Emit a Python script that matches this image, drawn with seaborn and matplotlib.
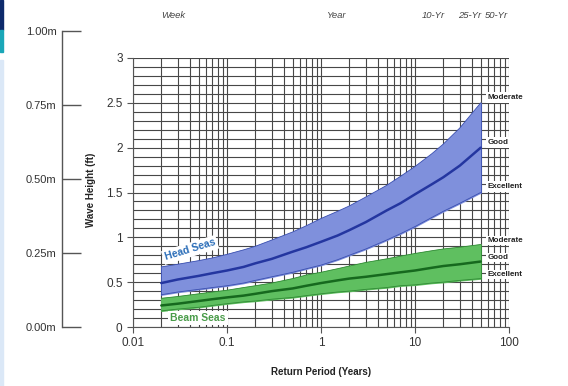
import numpy as np
import pandas as pd
import matplotlib
matplotlib.use("Agg")
import matplotlib.pyplot as plt
import seaborn as sns

sns.set_style("white")
plt.rcParams['font.family'] = ['Liberation Sans', 'DejaVu Sans']

# ---- data (wave height in ft vs return period in years) ----
periods = [0.02, 0.03, 0.05, 0.07, 0.1, 0.15, 0.2, 0.3, 0.5, 0.7, 1,
           1.5, 2, 3, 5, 7, 10, 15, 20, 30, 50]
head_moderate = [0.67, 0.70, 0.74, 0.77, 0.81, 0.86, 0.90, 0.97, 1.06, 1.13, 1.21,
                 1.29, 1.35, 1.45, 1.58, 1.68, 1.79, 1.93, 2.04, 2.22, 2.50]
head_good = [0.49, 0.53, 0.57, 0.60, 0.63, 0.67, 0.71, 0.76, 0.84, 0.89, 0.95,
             1.02, 1.08, 1.17, 1.30, 1.38, 1.48, 1.59, 1.67, 1.80, 2.00]
head_excellent = [0.36, 0.39, 0.42, 0.44, 0.46, 0.49, 0.52, 0.56, 0.61, 0.65, 0.69,
                  0.75, 0.80, 0.87, 0.97, 1.04, 1.12, 1.22, 1.29, 1.38, 1.50]
beam_moderate = [0.32, 0.34, 0.37, 0.39, 0.41, 0.44, 0.46, 0.49, 0.54, 0.58, 0.61,
                 0.65, 0.68, 0.72, 0.76, 0.79, 0.82, 0.85, 0.87, 0.89, 0.92]
beam_good = [0.24, 0.26, 0.29, 0.31, 0.33, 0.35, 0.37, 0.40, 0.43, 0.46, 0.49,
             0.52, 0.54, 0.56, 0.59, 0.61, 0.63, 0.66, 0.68, 0.70, 0.73]
beam_excellent = [0.18, 0.20, 0.22, 0.24, 0.26, 0.28, 0.29, 0.31, 0.33, 0.35, 0.37,
                  0.39, 0.40, 0.42, 0.44, 0.46, 0.47, 0.49, 0.50, 0.52, 0.54]

band_labels = ["Moderate", "Good", "Excellent"]
top_labels = ["Week", "Year", "10-Yr", "25-Yr", "50-Yr"]
top_label_x = [0.027, 1.45, 15.5, 38, 73]
y_ticks = [0, 0.5, 1, 1.5, 2, 2.5, 3]
y_tick_labels = ["0", "0.5", "1", "1.5", "2", "2.5", "3"]
x_ticks = [0.01, 0.1, 1, 10, 100]
x_tick_labels = ["0.01", "0.1", "1", "10", "100"]
m_ticks = [0, 0.25, 0.5, 0.75, 1.0]
m_tick_labels = ["0.00m", "0.25m", "0.50m", "0.75m", "1.00m"]

df = pd.DataFrame({
    "period": periods * 2,
    "height": head_good + beam_good,
    "sea": ["Head Seas"] * len(periods) + ["Beam Seas"] * len(periods),
})

W, H = 568, 386
fig = plt.figure(figsize=(W / 100, H / 100), dpi=100)

# left edge screenshot stripes
fig.patches.append(plt.Rectangle((0, 1 - 30 / H), 3 / W, 30 / H, transform=fig.transFigure,
                                 color="#0d2a6b", zorder=0))
fig.patches.append(plt.Rectangle((0, 1 - 52 / H), 3 / W, 22 / H, transform=fig.transFigure,
                                 color="#1aa7b8", zorder=0))
fig.patches.append(plt.Rectangle((0, 0), 3 / W, 1 - 60 / H, transform=fig.transFigure,
                                 color="#dbe8f7", zorder=0))

ax = fig.add_axes([133 / W, 59 / H, 376 / W, 269 / H])
ax.set_xscale("log")
ax.set_xlim(0.01, 100)
ax.set_ylim(0, 3)

# grid
grid_color = "#474747"
ax.set_xticks(x_ticks)
ax.set_xticklabels(x_tick_labels)
ax.set_yticks(y_ticks)
ax.set_yticklabels(y_tick_labels)
ax.set_yticks(np.round(np.arange(0, 3.01, 0.1), 2), minor=True)
ax.xaxis.set_minor_locator(matplotlib.ticker.LogLocator(base=10, subs=np.arange(2, 10)))
ax.grid(True, which="both", axis="both", color=grid_color, lw=0.8, zorder=0)
ax.tick_params(axis="x", which="minor", length=0, labelbottom=False)
ax.tick_params(axis="y", which="minor", length=0)
ax.tick_params(axis="both", which="major", labelsize=8.5, labelcolor="#333333",
               color="#555555", length=4, width=0.8, left=True, bottom=True)
for s in ["top", "right"]:
    ax.spines[s].set_visible(False)
for s in ["left", "bottom"]:
    ax.spines[s].set_color("#555555")
    ax.spines[s].set_linewidth(0.8)

# bands
head_fill, head_edge, head_line = "#7f90dc", "#3a4fb0", "#2436a0"
beam_fill, beam_edge, beam_line = "#5fbf60", "#2f8a34", "#16691e"
ax.fill_between(periods, head_excellent, head_moderate, color=head_fill, alpha=1, zorder=2)
ax.plot(periods, head_moderate, color=head_edge, lw=0.6, zorder=3)
ax.plot(periods, head_excellent, color=head_edge, lw=0.6, zorder=3)
ax.plot([periods[0], periods[0]], [head_excellent[0], head_moderate[0]], color=head_edge, lw=0.6, zorder=3)
ax.plot([periods[-1], periods[-1]], [head_excellent[-1], head_moderate[-1]], color=head_edge, lw=0.6, zorder=3)
ax.fill_between(periods, beam_excellent, beam_moderate, color=beam_fill, alpha=1, zorder=2)
ax.plot(periods, beam_moderate, color=beam_edge, lw=0.6, zorder=3)
ax.plot(periods, beam_excellent, color=beam_edge, lw=0.6, zorder=3)
ax.plot([periods[-1], periods[-1]], [beam_excellent[-1], beam_moderate[-1]], color=beam_edge, lw=0.6, zorder=3)

sns.lineplot(data=df, x="period", y="height", hue="sea",
             palette={"Head Seas": head_line, "Beam Seas": beam_line},
             lw=1.8, ax=ax, legend=False, zorder=4)
ax.set_ylabel("")

# end labels
for lab, v in zip(band_labels, [head_moderate[-1], head_good[-1], head_excellent[-1]]):
    ax.annotate(lab, (periods[-1], v), xytext=(5, 4), textcoords="offset points",
                fontsize=5.8, fontweight="bold", color="#222222", va="center", ha="left",
                bbox=dict(boxstyle="square,pad=0.25", fc="white", ec="none"), zorder=6,
                annotation_clip=False)
for lab, v in zip(band_labels, [beam_moderate[-1], beam_good[-1], beam_excellent[-1]]):
    ax.annotate(lab, (periods[-1], v), xytext=(5, 3), textcoords="offset points",
                fontsize=5.8, fontweight="bold", color="#222222", va="center", ha="left",
                bbox=dict(boxstyle="square,pad=0.15", fc="white", ec="none"), zorder=6,
                annotation_clip=False)

ax.text(0.0405, 0.86, "Head Seas", rotation=17, fontsize=7.5, fontweight="bold",
        color="#2a6db8", ha="center", va="center", zorder=6,
        bbox=dict(boxstyle="square,pad=0.2", fc="white", ec="none"))
ax.text(0.049, 0.10, "Beam Seas", fontsize=7.5, fontweight="bold",
        color="#4a9c4a", ha="center", va="center", zorder=6,
        bbox=dict(boxstyle="square,pad=0.2", fc="white", ec="none"))

# top labels
for lab, xv in zip(top_labels, top_label_x):
    ax.text(xv, 1 - 15 / H, lab, transform=matplotlib.transforms.blended_transform_factory(
        ax.transData, fig.transFigure), fontsize=6.8, style="italic", color="#444444",
        ha="center", va="center")

ax.set_xlabel("Return Period (Years)", fontsize=7, fontweight="bold", color="#222222", labelpad=13)
fig.text(91 / W, 1 - 190 / H, "Wave Height (ft)", rotation=90, fontsize=7, fontweight="bold",
         color="#222222", ha="center", va="center")

# metric axis
axm = fig.add_axes([62 / W, 59 / H, 20 / W, 296 / H])
axm.set_ylim(0, 1.0)
axm.set_xlim(0, 1)
axm.set_yticks(m_ticks)
axm.set_yticklabels(m_tick_labels)
axm.set_xticks([])
for s in ["top", "right", "bottom"]:
    axm.spines[s].set_visible(False)
axm.spines["left"].set_color("#555555")
axm.spines["left"].set_linewidth(1.0)
axm.tick_params(axis="y", direction="in", length=14, width=1.0, color="#555555",
                labelsize=8, labelcolor="#333333", pad=4, left=True)
axm.patch.set_alpha(0)

fig.savefig("out.png", dpi=100)
